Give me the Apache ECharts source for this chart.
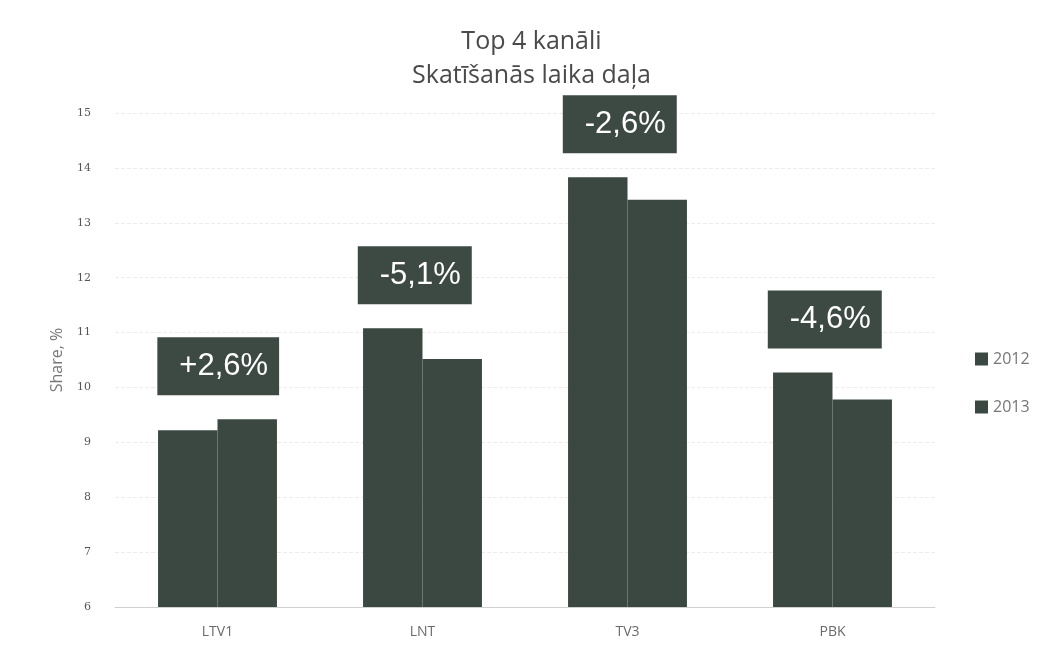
<!DOCTYPE html>
<html>
<head>
<meta charset="utf-8">
<script src="https://cdn.jsdelivr.net/npm/echarts@6/dist/echarts.min.js"></script>
<style>
html,body{margin:0;padding:0;background:#fff;}
#c{width:1063px;height:664px;}
</style>
</head>
<body>
<div id="c"></div>
<script>
var categories = ['LTV1', 'LNT', 'TV3', 'PBK'];
var share2012 = [9.22, 11.08, 13.83, 10.27];
var share2013 = [9.42, 10.52, 13.42, 9.78];
var changeLabels = ['+2,6%', '-5,1%', '-2,6%', '-4,6%'];
var yTicks = [6, 7, 8, 9, 10, 11, 12, 13, 14, 15];

var barColor = '#3b4842';
var boxLabel = function (text, shift) {
  return {
    show: true,
    position: 'top',
    distance: 24,
    offset: [shift, 0],
    formatter: text,
    color: '#ffffff',
    fontFamily: 'Liberation Sans, Arial, sans-serif',
    fontSize: 31,
    lineHeight: 32,
    backgroundColor: '#3d4a44',
    padding: [13, 11, 13, 22]
  };
};

function buildData(values, other, shift) {
  return values.map(function (v, i) {
    var item = { value: v };
    if (v >= other[i]) item.label = boxLabel(changeLabels[i], shift);
    return item;
  });
}

var chart = echarts.init(document.getElementById('c'));
chart.setOption({
  backgroundColor: '#ffffff',
  animation: false,
  title: {
    text: 'Top 4 kanāli\nSkatīšanās laika daļa',
    left: 'center',
    top: 20,
    textStyle: {
      fontFamily: 'Open Sans, Noto Sans, sans-serif',
      fontSize: 25,
      fontWeight: 'normal',
      color: '#4a4a4a',
      lineHeight: 34
    }
  },
  legend: {
    orient: 'vertical',
    left: 970,
    top: 346,
    itemWidth: 13,
    itemHeight: 13,
    itemGap: 32,
    icon: 'rect',
    textStyle: { color: '#777', fontSize: 16, fontFamily: 'Open Sans, sans-serif' },
    data: ['2012', '2013']
  },
  grid: { left: 115, right: 128, top: 113, bottom: 57 },
  xAxis: {
    type: 'category',
    data: categories,
    axisTick: { show: false },
    axisLine: { lineStyle: { color: '#d0d0d0' } },
    axisLabel: { color: '#6a6a6a', fontSize: 14, margin: 18, fontFamily: 'Open Sans, sans-serif' }
  },
  yAxis: {
    type: 'value',
    min: yTicks[0],
    max: yTicks[yTicks.length - 1],
    interval: 1,
    name: 'Share, %',
    nameLocation: 'middle',
    nameGap: 50,
    nameTextStyle: { color: '#777', fontSize: 16, fontFamily: 'Open Sans, sans-serif' },
    axisLine: { show: false },
    axisTick: { show: false },
    axisLabel: { color: '#555', fontSize: 11, margin: 24, fontFamily: 'DejaVu Serif, serif' },
    splitLine: { lineStyle: { color: '#ececec', type: 'dashed' } }
  },
  series: [
    {
      name: '2012',
      type: 'bar',
      barGap: '0%',
      barCategoryGap: '42%',
      itemStyle: { color: barColor },
      data: buildData(share2012, share2013, 22)
    },
    {
      name: '2013',
      type: 'bar',
      barGap: '0%',
      barCategoryGap: '42%',
      itemStyle: { color: barColor },
      data: buildData(share2013, share2012, -29)
    }
  ]
});
</script>
</body>
</html>
